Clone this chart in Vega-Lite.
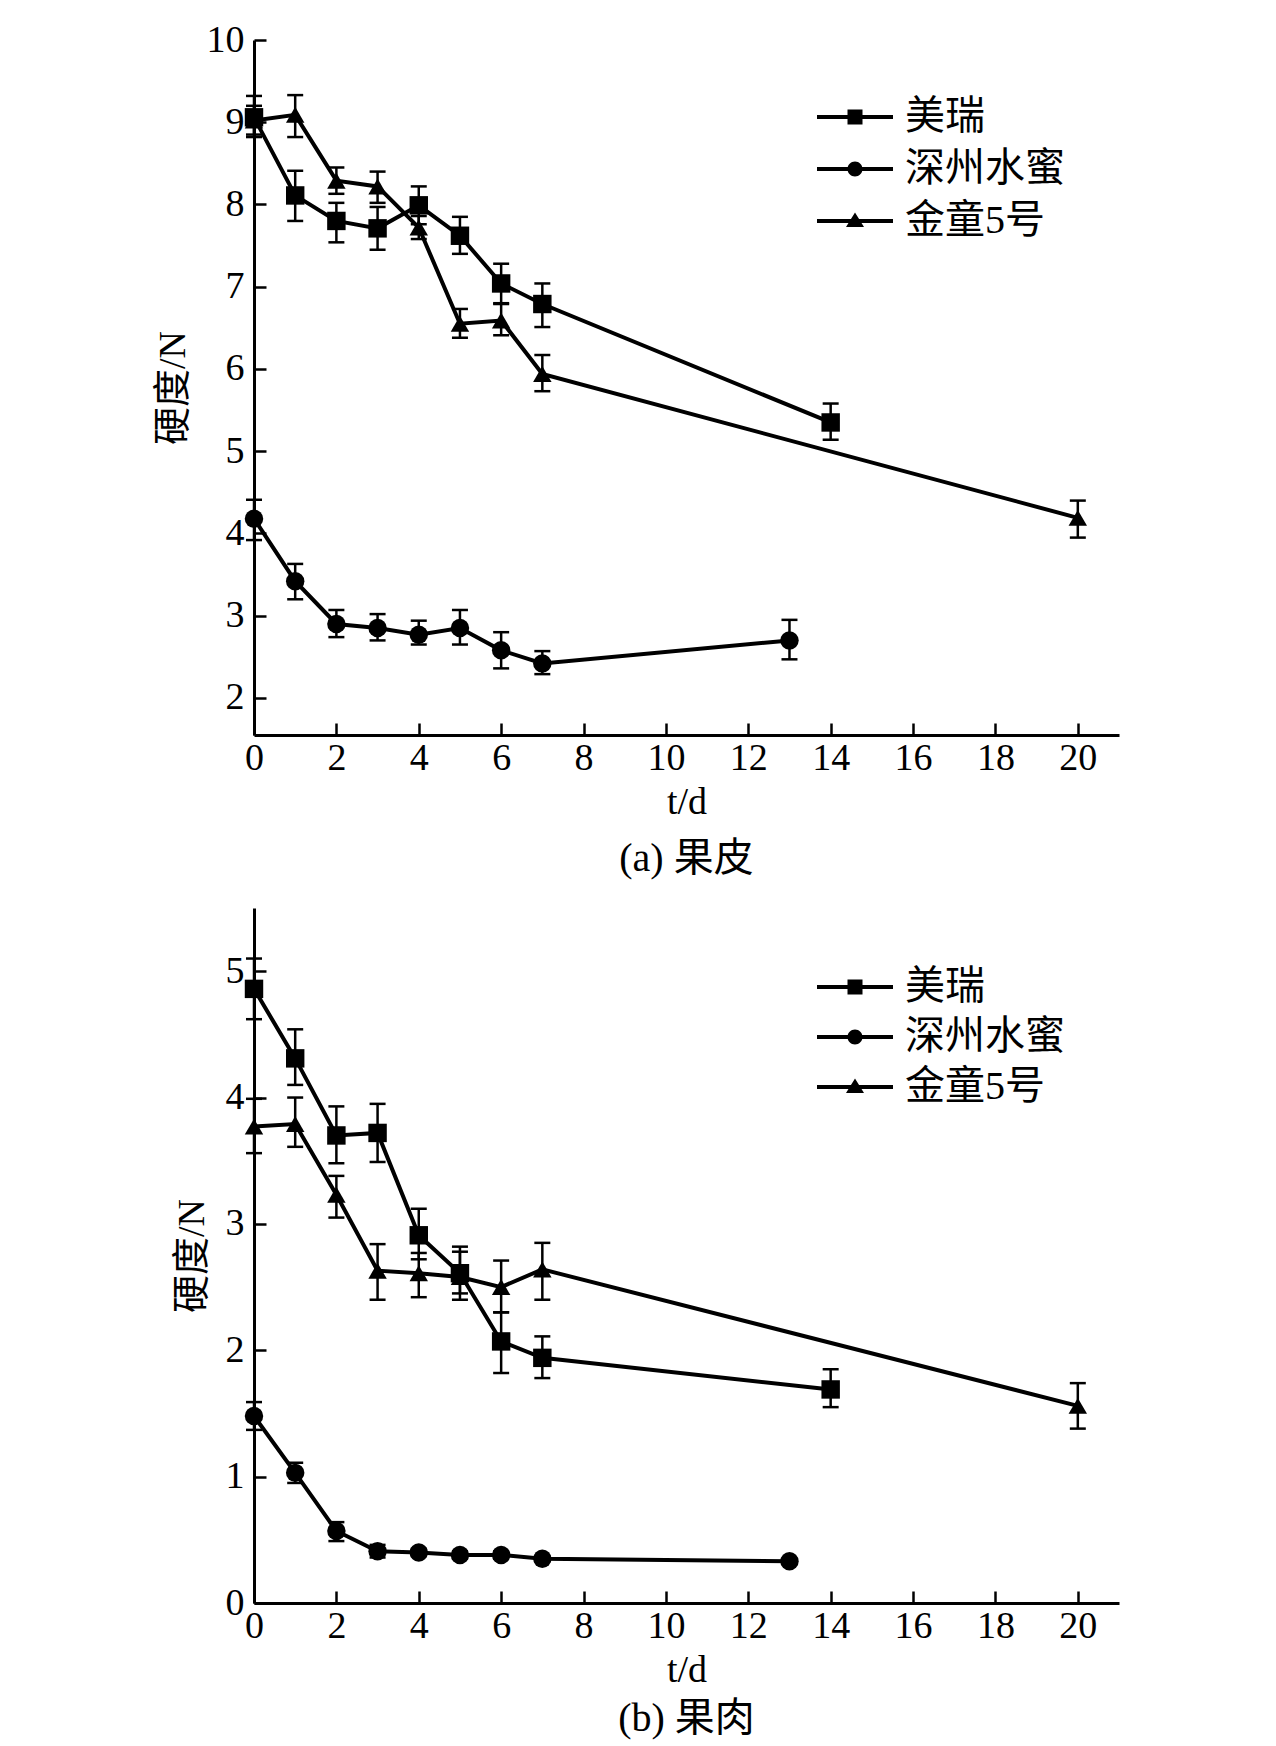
{
  "$schema": "https://vega.github.io/schema/vega-lite/v6.json",
  "background": "white",
  "padding": {"left": 154, "top": 21, "right": 10, "bottom": 5},
  "spacing": 29,
  "config": {
    "view": {"stroke": null},
    "axis": {
      "grid": false,
      "domainColor": "black",
      "domainWidth": 3,
      "tickColor": "black",
      "tickWidth": 2.5,
      "tickSize": -12,
      "labelFont": "Liberation Serif",
      "labelFontSize": 38,
      "labelColor": "black",
      "titleFont": "Liberation Serif, Noto Sans CJK SC",
      "titleFontSize": 38,
      "titleFontWeight": "normal",
      "titleColor": "black"
    },
    "legend": {
      "labelFont": "Liberation Serif, Noto Sans CJK SC",
      "labelFontSize": 40,
      "labelColor": "black"
    }
  },
  "data": {
    "values": [
      {"panel": "a", "variety": "美瑞", "t": 0, "v": 9.06, "lo": 8.82, "hi": 9.32},
      {"panel": "a", "variety": "美瑞", "t": 1, "v": 8.11, "lo": 7.8, "hi": 8.41},
      {"panel": "a", "variety": "美瑞", "t": 2, "v": 7.8, "lo": 7.54, "hi": 8.02},
      {"panel": "a", "variety": "美瑞", "t": 3, "v": 7.71, "lo": 7.45, "hi": 7.97},
      {"panel": "a", "variety": "美瑞", "t": 4, "v": 7.99, "lo": 7.76, "hi": 8.22},
      {"panel": "a", "variety": "美瑞", "t": 5, "v": 7.62, "lo": 7.4, "hi": 7.85},
      {"panel": "a", "variety": "美瑞", "t": 6, "v": 7.04, "lo": 6.79, "hi": 7.28},
      {"panel": "a", "variety": "美瑞", "t": 7, "v": 6.79, "lo": 6.51, "hi": 7.04},
      {"panel": "a", "variety": "美瑞", "t": 14, "v": 5.35, "lo": 5.14, "hi": 5.58},
      {"panel": "a", "variety": "金童5号", "t": 0, "v": 9.02, "lo": 8.85, "hi": 9.2},
      {"panel": "a", "variety": "金童5号", "t": 1, "v": 9.09, "lo": 8.82, "hi": 9.33},
      {"panel": "a", "variety": "金童5号", "t": 2, "v": 8.29, "lo": 8.13, "hi": 8.45},
      {"panel": "a", "variety": "金童5号", "t": 3, "v": 8.22, "lo": 8.02, "hi": 8.4},
      {"panel": "a", "variety": "金童5号", "t": 4, "v": 7.72, "lo": 7.58, "hi": 7.86},
      {"panel": "a", "variety": "金童5号", "t": 5, "v": 6.55, "lo": 6.38, "hi": 6.73},
      {"panel": "a", "variety": "金童5号", "t": 6, "v": 6.59, "lo": 6.41, "hi": 6.8},
      {"panel": "a", "variety": "金童5号", "t": 7, "v": 5.94, "lo": 5.73, "hi": 6.17},
      {"panel": "a", "variety": "金童5号", "t": 20, "v": 4.19, "lo": 3.95, "hi": 4.4},
      {"panel": "a", "variety": "深州水蜜", "t": 0, "v": 4.18, "lo": 3.92, "hi": 4.41},
      {"panel": "a", "variety": "深州水蜜", "t": 1, "v": 3.42, "lo": 3.2, "hi": 3.63},
      {"panel": "a", "variety": "深州水蜜", "t": 2, "v": 2.9, "lo": 2.74, "hi": 3.07},
      {"panel": "a", "variety": "深州水蜜", "t": 3, "v": 2.85, "lo": 2.7, "hi": 3.02},
      {"panel": "a", "variety": "深州水蜜", "t": 4, "v": 2.77, "lo": 2.65, "hi": 2.94},
      {"panel": "a", "variety": "深州水蜜", "t": 5, "v": 2.85, "lo": 2.65, "hi": 3.07},
      {"panel": "a", "variety": "深州水蜜", "t": 6, "v": 2.58, "lo": 2.36, "hi": 2.8},
      {"panel": "a", "variety": "深州水蜜", "t": 7, "v": 2.42, "lo": 2.29, "hi": 2.57},
      {"panel": "a", "variety": "深州水蜜", "t": 13, "v": 2.7, "lo": 2.47, "hi": 2.95},
      {"panel": "b", "variety": "美瑞", "t": 0, "v": 4.86, "lo": 4.62, "hi": 5.1},
      {"panel": "b", "variety": "美瑞", "t": 1, "v": 4.31, "lo": 4.1, "hi": 4.54},
      {"panel": "b", "variety": "美瑞", "t": 2, "v": 3.7, "lo": 3.48, "hi": 3.93},
      {"panel": "b", "variety": "美瑞", "t": 3, "v": 3.72, "lo": 3.49, "hi": 3.95},
      {"panel": "b", "variety": "美瑞", "t": 4, "v": 2.91, "lo": 2.72, "hi": 3.12},
      {"panel": "b", "variety": "美瑞", "t": 5, "v": 2.61, "lo": 2.4, "hi": 2.82},
      {"panel": "b", "variety": "美瑞", "t": 6, "v": 2.07, "lo": 1.82, "hi": 2.3},
      {"panel": "b", "variety": "美瑞", "t": 7, "v": 1.94, "lo": 1.78, "hi": 2.11},
      {"panel": "b", "variety": "美瑞", "t": 14, "v": 1.69, "lo": 1.55, "hi": 1.85},
      {"panel": "b", "variety": "金童5号", "t": 0, "v": 3.77, "lo": 3.56, "hi": 3.99},
      {"panel": "b", "variety": "金童5号", "t": 1, "v": 3.79, "lo": 3.61, "hi": 4.0},
      {"panel": "b", "variety": "金童5号", "t": 2, "v": 3.23, "lo": 3.05, "hi": 3.38},
      {"panel": "b", "variety": "金童5号", "t": 3, "v": 2.63, "lo": 2.4, "hi": 2.84},
      {"panel": "b", "variety": "金童5号", "t": 4, "v": 2.61, "lo": 2.42, "hi": 2.77},
      {"panel": "b", "variety": "金童5号", "t": 5, "v": 2.58, "lo": 2.45, "hi": 2.78},
      {"panel": "b", "variety": "金童5号", "t": 6, "v": 2.5, "lo": 2.3, "hi": 2.71},
      {"panel": "b", "variety": "金童5号", "t": 7, "v": 2.64, "lo": 2.4, "hi": 2.85},
      {"panel": "b", "variety": "金童5号", "t": 20, "v": 1.56, "lo": 1.38, "hi": 1.74},
      {"panel": "b", "variety": "深州水蜜", "t": 0, "v": 1.48, "lo": 1.37, "hi": 1.59},
      {"panel": "b", "variety": "深州水蜜", "t": 1, "v": 1.03, "lo": 0.95, "hi": 1.11},
      {"panel": "b", "variety": "深州水蜜", "t": 2, "v": 0.57, "lo": 0.49, "hi": 0.64},
      {"panel": "b", "variety": "深州水蜜", "t": 3, "v": 0.41, "lo": 0.36, "hi": 0.46},
      {"panel": "b", "variety": "深州水蜜", "t": 4, "v": 0.4, "lo": 0.37, "hi": 0.43},
      {"panel": "b", "variety": "深州水蜜", "t": 5, "v": 0.38, "lo": 0.35, "hi": 0.41},
      {"panel": "b", "variety": "深州水蜜", "t": 6, "v": 0.38, "lo": 0.35, "hi": 0.41},
      {"panel": "b", "variety": "深州水蜜", "t": 7, "v": 0.35, "lo": 0.33, "hi": 0.37},
      {"panel": "b", "variety": "深州水蜜", "t": 13, "v": 0.33, "lo": 0.31, "hi": 0.35}
    ]
  },
  "resolve": {"scale": {"shape": "independent", "y": "independent"}, "legend": {"shape": "independent"}},
  "vconcat": [
    {
      "width": 865,
      "height": 695,
      "title": {"text": "(a) 果皮", "orient": "bottom", "anchor": "middle", "font": "Liberation Serif, Noto Sans CJK SC", "fontSize": 40, "fontWeight": "normal", "color": "black", "offset": 18},
      "transform": [{"filter": "datum.panel == 'a'"}],
      "encoding": {
        "x": {"field": "t", "type": "quantitative", "title": "t/d", "scale": {"domain": [0, 21], "nice": false, "zero": false},
          "axis": {"values": [0, 2, 4, 6, 8, 10, 12, 14, 16, 18, 20], "format": "d", "labelPadding": 16, "titlePadding": 6, "labelFlush": false}}
      },
      "layer": [
        {
          "mark": {"type": "rule", "color": "black", "strokeWidth": 2.5},
          "encoding": {
            "y": {"field": "lo", "type": "quantitative", "title": "硬度/N", "scale": {"domain": [1.55, 10], "nice": false, "zero": false},
              "axis": {"values": [2, 3, 4, 5, 6, 7, 8, 9, 10], "format": "d", "labelPadding": 22, "titlePadding": 14, "labelFlush": false}},
            "y2": {"field": "hi"}
          }
        },
        {
          "mark": {"type": "tick", "orient": "horizontal", "color": "black", "size": 16, "thickness": 2.5, "opacity": 1},
          "encoding": {"y": {"field": "lo", "type": "quantitative", "title": "硬度/N"}}
        },
        {
          "mark": {"type": "tick", "orient": "horizontal", "color": "black", "size": 16, "thickness": 2.5, "opacity": 1},
          "encoding": {"y": {"field": "hi", "type": "quantitative", "title": "硬度/N"}}
        },
        {
          "mark": {"type": "line", "color": "black", "strokeWidth": 4},
          "encoding": {"y": {"field": "v", "type": "quantitative", "title": "硬度/N"}, "detail": {"field": "variety", "type": "nominal"}}
        },
        {
          "mark": {"type": "point", "filled": true, "color": "black", "opacity": 1, "size": 340},
          "encoding": {
            "y": {"field": "v", "type": "quantitative", "title": "硬度/N"},
            "shape": {"field": "variety", "type": "nominal", "scale": {"domain": ["美瑞", "深州水蜜", "金童5号"], "range": ["square", "circle", "triangle-up"]}, "legend": null}
          }
        },
        {
          "mark": {"type": "point", "filled": true, "color": "black", "opacity": 0},
          "encoding": {
            "y": {"field": "v", "type": "quantitative", "title": "硬度/N"},
            "shape": {"field": "variety", "type": "nominal",
              "scale": {"domain": ["美瑞", "深州水蜜", "金童5号"], "range": [
                "M-1.9,-0.1H1.9V0.1H-1.9Z M-0.375,-0.375H0.375V0.375H-0.375Z",
                "M-1.9,-0.1H1.9V0.1H-1.9Z M-0.375,0A0.375,0.375,0,1,1,0.375,0A0.375,0.375,0,1,1,-0.375,0Z",
                "M-1.9,-0.1H1.9V0.1H-1.9Z M0,-0.42L0.45,0.3H-0.45Z"]},
              "legend": {"title": null, "orient": "none", "legendX": 581, "legendY": 57, "padding": 0, "symbolSize": 1600, "symbolOpacity": 1, "symbolFillColor": "black", "symbolStrokeColor": "black", "symbolStrokeWidth": 0, "labelOffset": 30, "rowPadding": 12}
            }
          }
        }
      ],
      "resolve": {"scale": {"shape": "independent"}, "legend": {"shape": "independent"}}
    },
    {
      "width": 865,
      "height": 695,
      "title": {"text": "(b) 果肉", "orient": "bottom", "anchor": "middle", "font": "Liberation Serif, Noto Sans CJK SC", "fontSize": 40, "fontWeight": "normal", "color": "black", "offset": 10},
      "transform": [{"filter": "datum.panel == 'b'"}],
      "encoding": {
        "x": {"field": "t", "type": "quantitative", "title": "t/d", "scale": {"domain": [0, 21], "nice": false, "zero": false},
          "axis": {"values": [0, 2, 4, 6, 8, 10, 12, 14, 16, 18, 20], "format": "d", "labelPadding": 16, "titlePadding": 6, "labelFlush": false}}
      },
      "layer": [
        {
          "mark": {"type": "rule", "color": "black", "strokeWidth": 2.5},
          "encoding": {
            "y": {"field": "lo", "type": "quantitative", "title": "硬度/N", "scale": {"domain": [0, 5.5], "nice": false, "zero": false},
              "axis": {"values": [0, 1, 2, 3, 4, 5], "format": "d", "labelPadding": 22, "titlePadding": 14, "labelFlush": false}},
            "y2": {"field": "hi"}
          }
        },
        {
          "mark": {"type": "tick", "orient": "horizontal", "color": "black", "size": 16, "thickness": 2.5, "opacity": 1},
          "encoding": {"y": {"field": "lo", "type": "quantitative", "title": "硬度/N"}}
        },
        {
          "mark": {"type": "tick", "orient": "horizontal", "color": "black", "size": 16, "thickness": 2.5, "opacity": 1},
          "encoding": {"y": {"field": "hi", "type": "quantitative", "title": "硬度/N"}}
        },
        {
          "mark": {"type": "line", "color": "black", "strokeWidth": 4},
          "encoding": {"y": {"field": "v", "type": "quantitative", "title": "硬度/N"}, "detail": {"field": "variety", "type": "nominal"}}
        },
        {
          "mark": {"type": "point", "filled": true, "color": "black", "opacity": 1, "size": 340},
          "encoding": {
            "y": {"field": "v", "type": "quantitative", "title": "硬度/N"},
            "shape": {"field": "variety", "type": "nominal", "scale": {"domain": ["美瑞", "深州水蜜", "金童5号"], "range": ["square", "circle", "triangle-up"]}, "legend": null}
          }
        },
        {
          "mark": {"type": "point", "filled": true, "color": "black", "opacity": 0},
          "encoding": {
            "y": {"field": "v", "type": "quantitative", "title": "硬度/N"},
            "shape": {"field": "variety", "type": "nominal",
              "scale": {"domain": ["美瑞", "深州水蜜", "金童5号"], "range": [
                "M-1.9,-0.1H1.9V0.1H-1.9Z M-0.375,-0.375H0.375V0.375H-0.375Z",
                "M-1.9,-0.1H1.9V0.1H-1.9Z M-0.375,0A0.375,0.375,0,1,1,0.375,0A0.375,0.375,0,1,1,-0.375,0Z",
                "M-1.9,-0.1H1.9V0.1H-1.9Z M0,-0.42L0.45,0.3H-0.45Z"]},
              "legend": {"title": null, "orient": "none", "legendX": 581, "legendY": 59, "padding": 0, "symbolSize": 1600, "symbolOpacity": 1, "symbolFillColor": "black", "symbolStrokeColor": "black", "symbolStrokeWidth": 0, "labelOffset": 30, "rowPadding": 10}
            }
          }
        }
      ],
      "resolve": {"scale": {"shape": "independent"}, "legend": {"shape": "independent"}}
    }
  ]
}
